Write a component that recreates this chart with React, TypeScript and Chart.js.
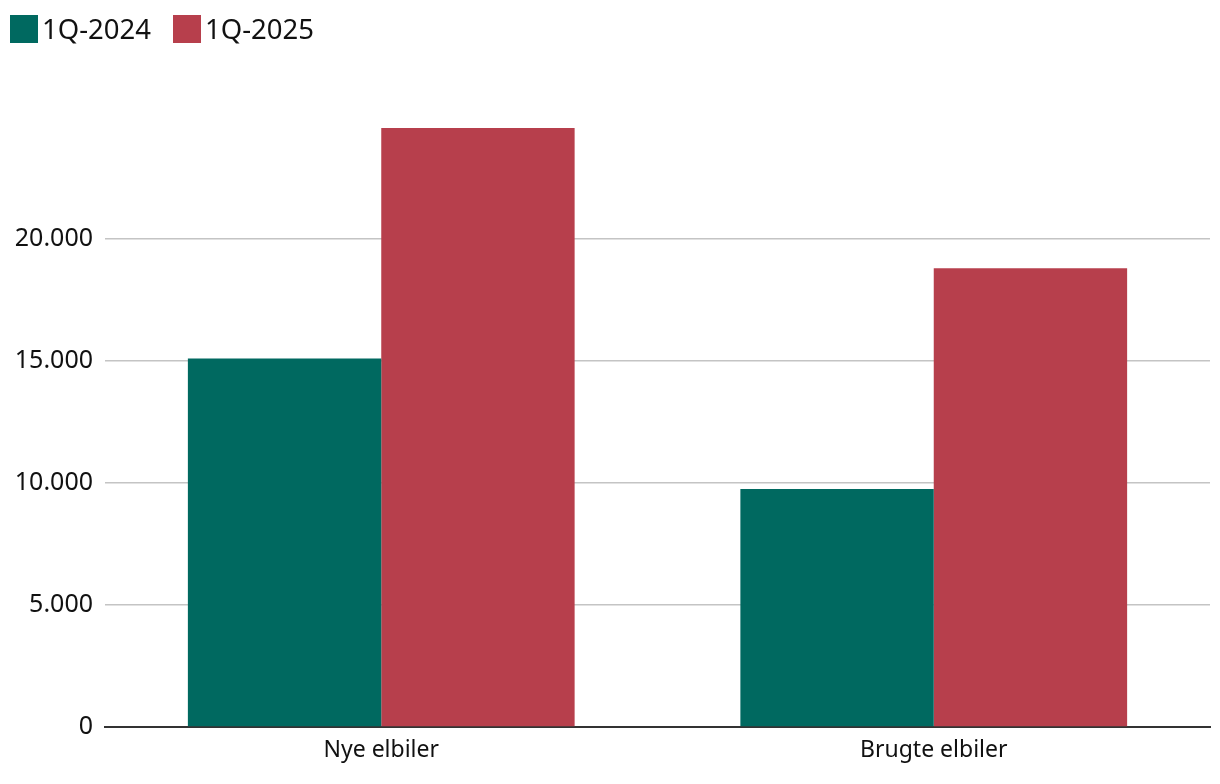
import React, { useEffect, useRef } from "react";
import { Chart, registerables } from "chart.js";

Chart.register(...registerables);

const categories = ["Nye elbiler", "Brugte elbiler"];
const seriesNames = ["1Q-2024", "1Q-2025"];
const values2024 = [15100, 9750];
const values2025 = [24550, 18800];
const colors = ["#006960", "#b73f4c"];
const FONT = "'Noto Sans', sans-serif";

export default function App() {
  const ref = useRef<HTMLCanvasElement | null>(null);
  useEffect(() => {
    document.body.style.margin = "0";
    const chart = new Chart(ref.current!, {
      type: "bar",
      data: {
        labels: categories,
        datasets: [
          { label: seriesNames[0], data: values2024, backgroundColor: colors[0], categoryPercentage: 0.7, barPercentage: 1.0 },
          { label: seriesNames[1], data: values2025, backgroundColor: colors[1], categoryPercentage: 0.7, barPercentage: 1.0 },
        ],
      },
      options: {
        animation: false,
        responsive: false,
        layout: { padding: { top: 117, right: 10, left: 0, bottom: 0 } },
        plugins: { legend: { display: false }, tooltip: { enabled: false } },
        scales: {
          x: {
            grid: { display: false, drawTicks: false },
            border: { display: true, color: "#333333", width: 2 },
            ticks: { color: "#111", font: { family: FONT, size: 23 }, padding: 10 },
            afterFit: (s: any) => { s.height = 57; },
          },
          y: {
            min: 0,
            max: 25000,
            border: { display: false },
            grid: {
              drawTicks: false,
              lineWidth: 1.5,
              color: (ctx: any) => (ctx.tick && (ctx.tick.value === 25000 || ctx.tick.value === 0) ? "rgba(0,0,0,0)" : "#c4c4c4"),
            },
            ticks: {
              stepSize: 5000,
              padding: 12,
              color: "#111",
              font: { family: FONT, size: 25 },
              callback: (v: any) => (v === 25000 ? "" : Number(v).toLocaleString("da-DK")),
            },
            afterFit: (s: any) => { s.width = 105; },
          },
        },
      },
    });
    return () => chart.destroy();
  }, []);

  const legendItem = (name: string, color: string) => (
    <div style={{ display: "flex", alignItems: "center", marginRight: 22 }} key={name}>
      <div style={{ width: 28, height: 28, background: color, marginRight: 4 }} />
      <span style={{ fontFamily: FONT, fontSize: 27.5, color: "#111", lineHeight: "28px" }}>{name}</span>
    </div>
  );

  return (
    <div style={{ position: "fixed", left: 0, top: 0, width: 1220, height: 784, background: "#fff" }}>
      <div style={{ position: "absolute", left: 10, top: 15, display: "flex" }}>
        {legendItem(seriesNames[0], colors[0])}
        {legendItem(seriesNames[1], colors[1])}
      </div>
      <canvas ref={ref} width={1220} height={784} style={{ display: "block" }} />
    </div>
  );
}
